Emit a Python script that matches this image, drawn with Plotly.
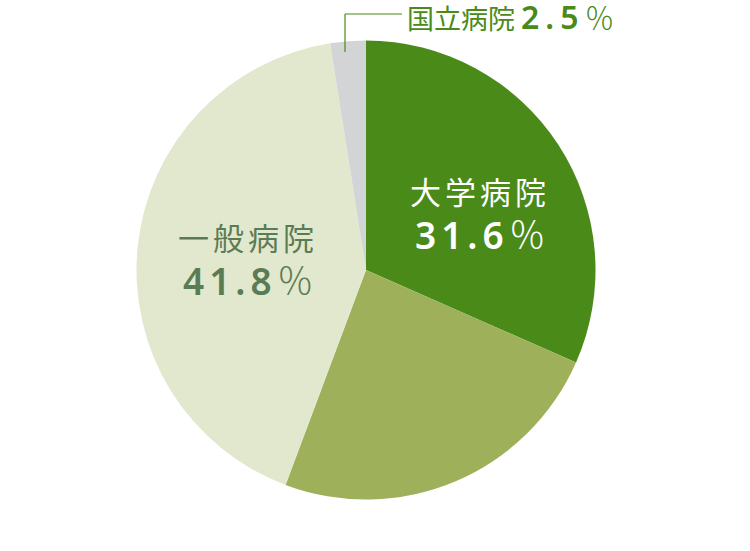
import plotly.graph_objects as go

# hospital share
names = ["大学病院", "その他", "一般病院", "国立病院"]
shares = [31.6, 24.1, 41.8, 2.5]
colors = ["#4a8a19", "#9fb05a", "#e2e8ce", "#d3d4d6"]

W, H = 750, 551
cx, cy, r = 366, 270, 229.5

fig = go.Figure(go.Pie(
	labels=names, values=shares, sort=False, direction="clockwise", rotation=0,
	marker=dict(colors=colors, line=dict(width=0)),
	textinfo="none", hoverinfo="label+value", showlegend=False,
	domain=dict(x=[(cx - r) / W, (cx + r) / W], y=[(H - cy - r) / H, (H - cy + r) / H]),
))

FONT = "Noto Sans CJK JP"
NUMFONT = "Noto Sans"

def px(x, y):
	return x / W, 1 - y / H

def label(i, x, y, color):
	ax, ay = px(x, y)
	fig.add_annotation(
		x=ax, y=ay, xref="paper", yref="paper", showarrow=False, xanchor="center", yanchor="middle",
		borderpad=0, text="<span style='letter-spacing:4px'>{}</span>".format(names[i]),
		font=dict(family=FONT, size=31, color=color),
	)
	ax, ay = px(x, y + 43)
	fig.add_annotation(
		x=ax, y=ay, xref="paper", yref="paper", showarrow=False, xanchor="center", yanchor="middle",
		borderpad=0,
		text="<span style='letter-spacing:5px;font-family:{};font-weight:600'>{}</span><span style='font-weight:300'>％</span>".format(NUMFONT, shares[i]),
		font=dict(family=FONT, size=37, color=color),
	)

label(0, 480, 190, "#ffffff")
label(2, 248, 236, "#5a7c55")

# 国立病院 callout
x0, y0 = px(345, 52)
x1, y1 = px(402, 14)
fig.add_shape(type="line", xref="paper", yref="paper", x0=x0, y0=y0, x1=x0, y1=y1,
	line=dict(color="#4a8a19", width=1.2))
fig.add_shape(type="line", xref="paper", yref="paper", x0=x0, y0=y1, x1=x1, y1=y1,
	line=dict(color="#4a8a19", width=1.2))
ax, ay = px(406, 16)
fig.add_annotation(
	x=ax, y=ay, xref="paper", yref="paper", showarrow=False, xanchor="left", yanchor="middle",
	borderpad=0,
	text="{} <span style='letter-spacing:6px;font-family:{};font-weight:600;font-size:32px'>{}</span><span style='font-weight:300;font-size:30px'>％</span>".format(names[3], NUMFONT, shares[3]),
	font=dict(family=FONT, size=27, color="#4a8a19"),
)

fig.update_layout(width=W, height=H, margin=dict(l=0, r=0, t=0, b=0),
	paper_bgcolor="white", plot_bgcolor="white")
# drop the default body margin so the figure sits at the page corner
fig.write_html("out.html", config={"displayModeBar": False},
	post_script="document.body.style.margin='0';")
